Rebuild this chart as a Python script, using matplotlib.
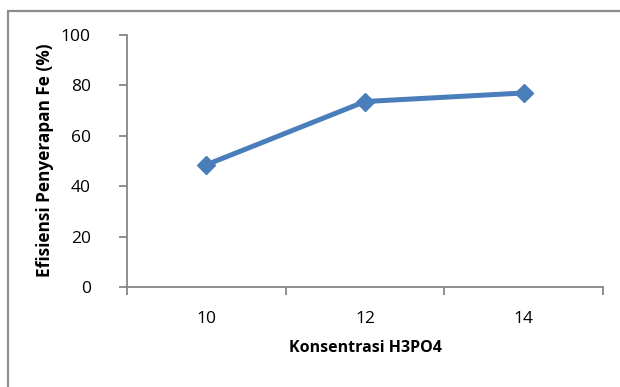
import numpy as np
import matplotlib.pyplot as plt
from matplotlib.patches import Rectangle

# H3PO4 concentration vs Fe absorption efficiency
konsentrasi = ['10', '12', '14']
efisiensi = [48.5, 73.6, 77.0]

fig = plt.figure(figsize=(6.2, 3.87), dpi=100)
plt.rcParams['font.family'] = ['Open Sans', 'DejaVu Sans']

# chart area border (only left and top fall inside the image)
fig.patches.append(Rectangle((8 / 620, -0.1), 1.2, 1 - 11 / 387 + 0.1,
                             transform=fig.transFigure, fill=False,
                             edgecolor='#8c8c8c', linewidth=1.6))

ax = fig.add_axes([127 / 620, 1 - 287 / 387, (603 - 127) / 620, (287 - 35) / 387])

x = np.arange(len(konsentrasi))
ax.plot(x, efisiensi, color='#4a7ebb', linewidth=3.6, marker='D',
        markersize=9, markeredgecolor='#4a7ebb', solid_capstyle='round', clip_on=False)

ax.set_xlim(-0.5, len(konsentrasi) - 0.5)
ax.set_ylim(0, 100)
ax.set_yticks(np.arange(0, 101, 20))

# category boundaries as ticks, labels centred in between
ax.set_xticks(np.arange(-0.5, len(konsentrasi)), labels=[''] * (len(konsentrasi) + 1))
ax.set_xticks(x, labels=konsentrasi, minor=True)
ax.tick_params(axis='x', which='minor', length=0, pad=17, labelsize=12.5)
ax.tick_params(axis='x', which='major', length=6, color='#868686', width=1.3)
ax.tick_params(axis='y', length=6, color='#868686', width=1.3, labelsize=12.5, pad=20)

for side in ['top', 'right']:
    ax.spines[side].set_visible(False)
for side in ['left', 'bottom']:
    ax.spines[side].set_color('#868686')
    ax.spines[side].set_linewidth(1.3)

ax.set_xlabel('Konsentrasi H3PO4', fontsize=11.5, fontweight='bold')
ax.set_ylabel('Efisiensi Penyerapan Fe (%)', fontsize=12.4, fontweight='bold')
ax.xaxis.set_label_coords(0.5, 1 - (348 - 35) / 252, transform=ax.transAxes)
ax.xaxis.label.set_va('center')
ax.yaxis.set_label_coords((45 - 127) / 476, 1 - (160 - 35) / 252, transform=ax.transAxes)
ax.yaxis.label.set_va('center')

fig.savefig('out.png', dpi=100)
